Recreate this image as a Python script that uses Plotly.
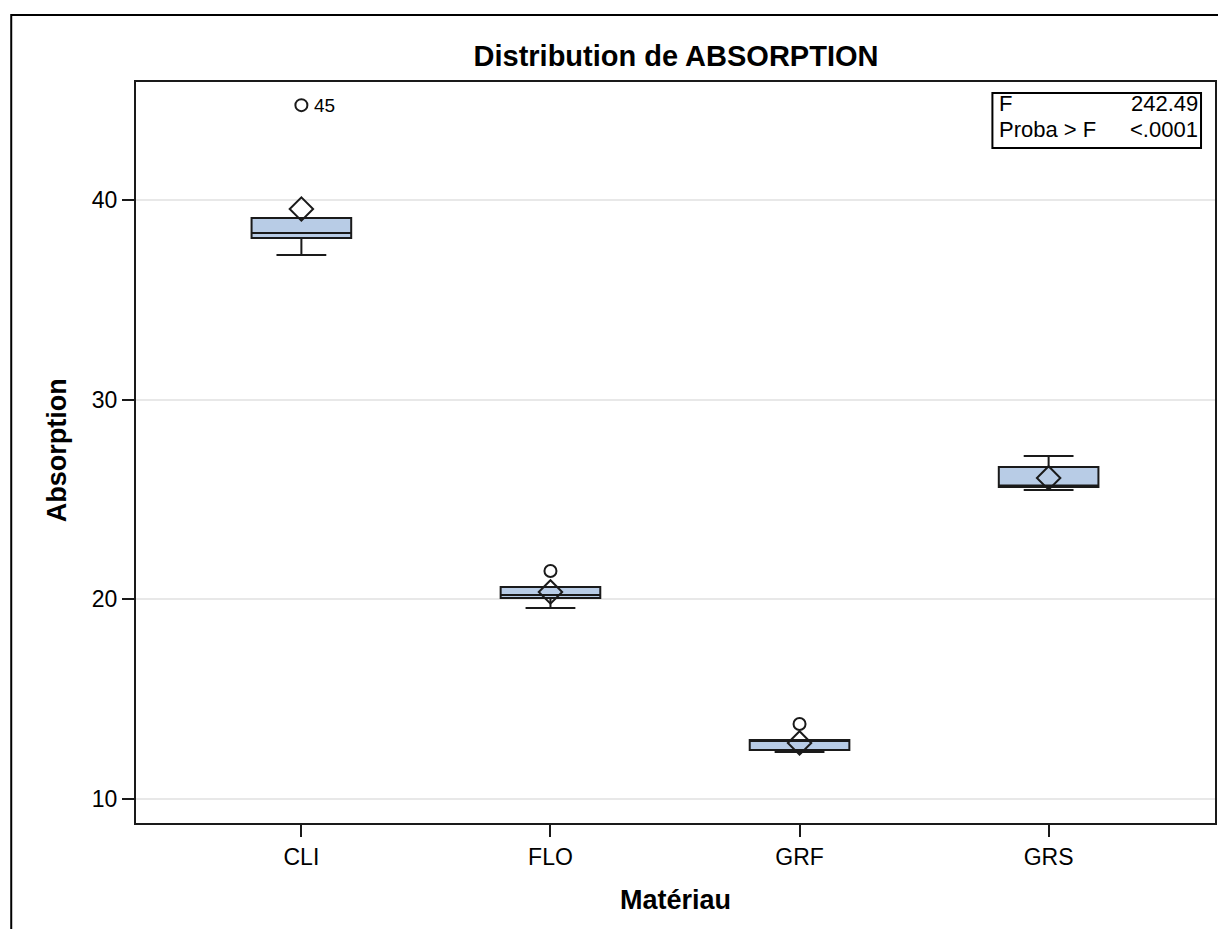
import plotly.graph_objects as go

# ---- data ----
categories = ["CLI", "FLO", "GRF", "GRS"]
q1 = [38.10, 20.07, 12.46, 25.63]
median = [38.35, 20.22, 12.92, 25.70]
q3 = [39.10, 20.62, 12.96, 26.63]
lowerfence = [37.25, 19.57, 12.36, 25.48]
upperfence = [39.10, 20.62, 12.96, 27.18]
means = [39.55, 20.37, 12.81, 26.08]
outlier_cat = ["CLI", "FLO", "GRF"]
outlier_val = [44.75, 21.42, 13.76]
outlier_label = ["45", "", ""]
y_ticks = [10, 20, 30, 40]
f_value = "242.49"
p_value = "<.0001"

FONT = "Liberation Sans, Arial, sans-serif"
LINE = "#1a1a1a"
FILL = "#B8CCE6"

fig = go.Figure()
fig.add_trace(go.Box(
    x=categories, q1=q1, median=median, q3=q3,
    lowerfence=lowerfence, upperfence=upperfence,
    width=0.4, whiskerwidth=0.5,
    fillcolor=FILL, line=dict(color=LINE, width=2),
    boxpoints=False, showlegend=False, hoverinfo="skip",
))
fig.add_trace(go.Scatter(
    x=categories, y=means, mode="markers",
    marker=dict(symbol="diamond-open", size=18, color=LINE, line=dict(width=2, color=LINE)),
    showlegend=False, hoverinfo="skip",
))
fig.add_trace(go.Scatter(
    x=outlier_cat, y=outlier_val, mode="markers",
    marker=dict(symbol="circle-open", size=12, color=LINE, line=dict(width=2, color=LINE)),
    showlegend=False, hoverinfo="skip",
))

for c, v, lab in zip(outlier_cat, outlier_val, outlier_label):
    if lab:
        fig.add_annotation(x=c, y=v, text=lab, showarrow=False, xanchor="left",
                           yanchor="middle", xshift=11,
                           font=dict(family=FONT, size=19, color="black"))

OFF = 8  # page body margin
W, H = 1226 - OFF, 929 - OFF
L, R, T, B = 136, 1217, 82, 823   # plot area in screen pixels
pw, ph = R - L, B - T

def px_x(p):
    return (p - L) / pw

def px_y(p):
    return (B - p) / ph

# outer frame (partial, like the reference)
fig.add_shape(type="path", xref="paper", yref="paper",
              path=f"M {px_x(11)},{px_y(960)} L {px_x(11)},{px_y(15)} L {px_x(1260)},{px_y(15)}",
              line=dict(color="black", width=2))

# statistics inset
fig.add_shape(type="rect", xref="paper", yref="paper",
              x0=px_x(994), x1=px_x(1203), y0=px_y(148), y1=px_y(93),
              line=dict(color="black", width=2), fillcolor="white")
inset_font = dict(family=FONT, size=22, color="black")
fig.add_annotation(xref="paper", yref="paper", x=px_x(999), y=px_y(104), text="F",
                   showarrow=False, xanchor="left", yanchor="middle", font=inset_font)
fig.add_annotation(xref="paper", yref="paper", x=px_x(1202), y=px_y(104), text=f_value,
                   showarrow=False, xanchor="right", yanchor="middle", font=inset_font)
fig.add_annotation(xref="paper", yref="paper", x=px_x(999), y=px_y(130), text="Proba &gt; F",
                   showarrow=False, xanchor="left", yanchor="middle", font=inset_font)
fig.add_annotation(xref="paper", yref="paper", x=px_x(1202), y=px_y(130), text="&lt;.0001",
                   showarrow=False, xanchor="right", yanchor="middle", font=inset_font)

# axis titles
fig.add_annotation(xref="paper", yref="paper", x=px_x(57), y=px_y(450), text="<b>Absorption</b>",
                   textangle=-90, showarrow=False, xanchor="center", yanchor="middle",
                   font=dict(family=FONT, size=27, color="black"))
fig.add_annotation(xref="paper", yref="paper", x=px_x(677), y=px_y(900), text="<b>Matériau</b>",
                   showarrow=False, xanchor="center", yanchor="middle",
                   font=dict(family=FONT, size=27, color="black"))

fig.update_layout(
    width=W, height=H,
    margin=dict(l=L - OFF, r=(W + OFF) - R, t=T - OFF, b=(H + OFF) - B, pad=0),
    paper_bgcolor="white", plot_bgcolor="white",
    title=dict(text="<b>Distribution de ABSORPTION</b>", x=px_x(677), xref="paper",
               y=1 - (56 - OFF) / H, yref="container", xanchor="center", yanchor="middle",
               font=dict(family=FONT, size=29, color="black")),
    font=dict(family=FONT, color="black"),
    showlegend=False,
)
fig.update_xaxes(
    type="category", categoryorder="array", categoryarray=categories,
    range=[-0.664, 3.668], showline=True, linecolor=LINE, linewidth=2, mirror=True,
    ticks="outside", ticklen=12, tickwidth=2, tickcolor=LINE,
    tickfont=dict(family=FONT, size=23, color="black"), showgrid=False, zeroline=False,
)
fig.update_yaxes(
    range=[8.8, 45.91], tickvals=y_ticks, showline=True, linecolor=LINE, linewidth=2, mirror=True,
    ticks="outside", ticklen=12, tickwidth=2, tickcolor=LINE,
    tickfont=dict(family=FONT, size=23, color="black"),
    showgrid=True, gridcolor="#E8E8E8", gridwidth=2, zeroline=False,
)

fig.write_html("out.html")
